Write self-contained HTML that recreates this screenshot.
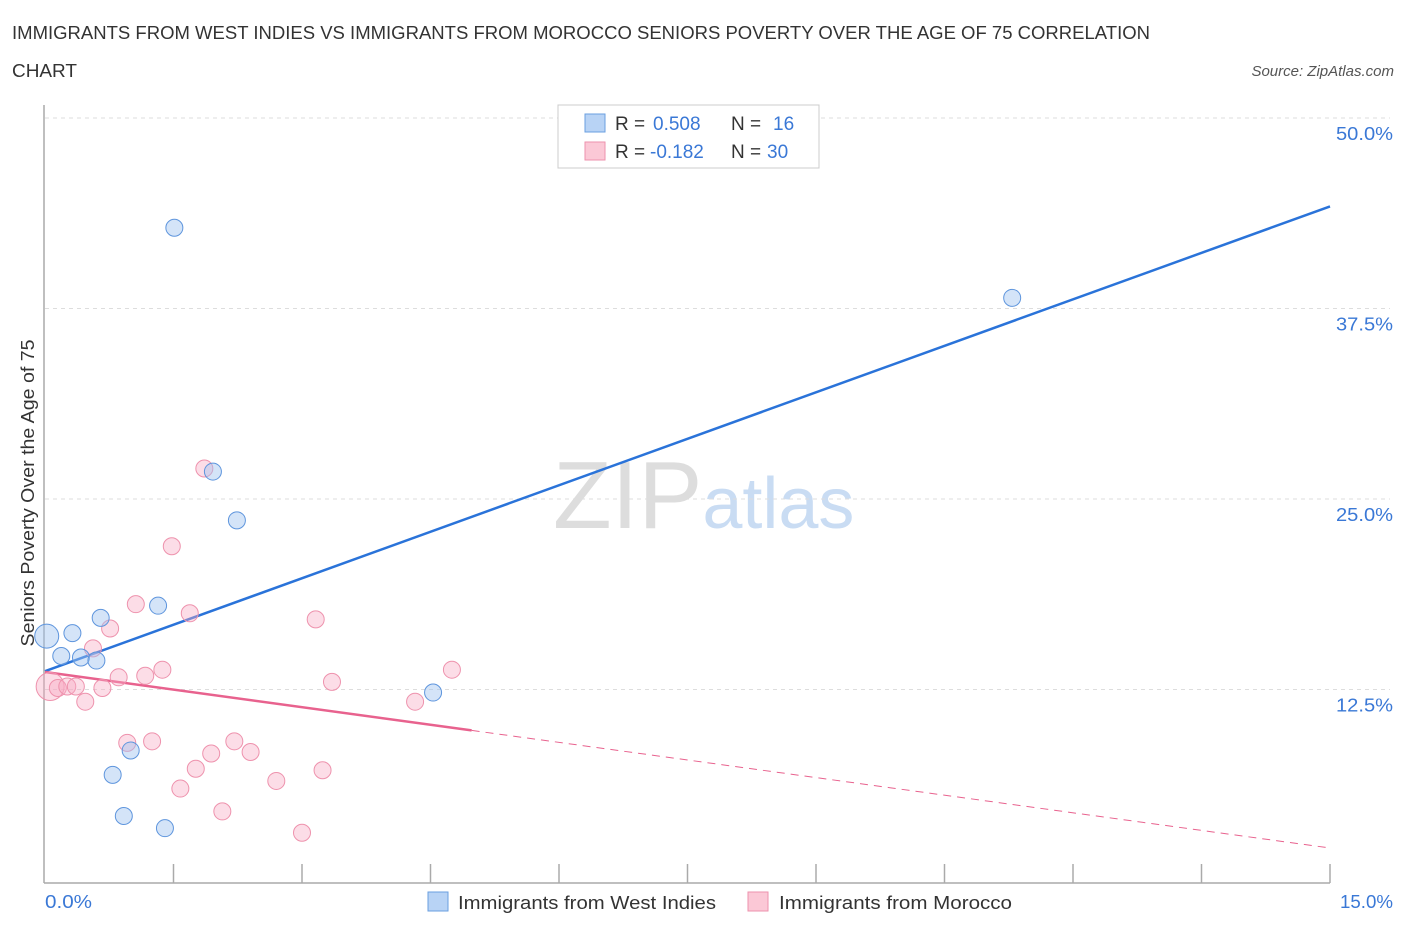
<!DOCTYPE html>
<html><head><meta charset="utf-8"><style>
body{margin:0;background:#fff;font-family:"Liberation Sans",sans-serif;}
svg text{font-family:"Liberation Sans",sans-serif;}
</style></head><body>
<svg width="1406" height="930" xmlns="http://www.w3.org/2000/svg" id="chart">
<text x="12" y="39" font-size="18" fill="#333" textLength="1138" lengthAdjust="spacingAndGlyphs">IMMIGRANTS FROM WEST INDIES VS IMMIGRANTS FROM MOROCCO SENIORS POVERTY OVER THE AGE OF 75 CORRELATION</text>
<text x="12" y="77" font-size="18" fill="#333" textLength="65" lengthAdjust="spacingAndGlyphs">CHART</text>
<text x="1394" y="76" font-size="15" fill="#555" text-anchor="end" font-style="italic">Source: ZipAtlas.com</text>
<text x="553" y="528" font-size="96" fill="#ddd" font-family="Liberation Serif">ZIP<tspan fill="#c9dcf3" font-family="Liberation Sans" font-size="72">atlas</tspan></text>
<g id="grid"></g>
<g id="axes"></g>
<g id="lines"></g>
<g id="points"></g>
<text transform="translate(34,493) rotate(-90)" font-size="18" fill="#333" text-anchor="middle" textLength="307" lengthAdjust="spacingAndGlyphs">Seniors Poverty Over the Age of 75</text>
<text x="45" y="908" font-size="18" fill="#3a78d6" textLength="47" lengthAdjust="spacingAndGlyphs">0.0%</text>
<text x="1340" y="908" font-size="18" fill="#3a78d6" textLength="53" lengthAdjust="spacingAndGlyphs">15.0%</text>
<g>
<rect x="558" y="105" width="261" height="63" fill="#fff" stroke="#ccc"/>
<rect x="585" y="114" width="20" height="18" fill="#b8d3f5" stroke="#6a9fe0"/>
<rect x="585" y="142" width="20" height="18" fill="#fbc8d6" stroke="#ee92ad"/>
<text x="615" y="130" font-size="19" fill="#333">R =</text>
<text x="653" y="130" font-size="19" fill="#3a78d6">0.508</text>
<text x="731" y="130" font-size="19" fill="#333">N =</text>
<text x="773" y="130" font-size="19" fill="#3a78d6">16</text>
<text x="615" y="158" font-size="19" fill="#333">R =</text>
<text x="650" y="158" font-size="19" fill="#3a78d6">-0.182</text>
<text x="731" y="158" font-size="19" fill="#333">N =</text>
<text x="767" y="158" font-size="19" fill="#3a78d6">30</text>
</g>
<g>
<rect x="428" y="892" width="20" height="19" fill="#b8d3f5" stroke="#6a9fe0"/>
<text x="458" y="909" font-size="18" fill="#333" textLength="258" lengthAdjust="spacingAndGlyphs">Immigrants from West Indies</text>
<rect x="748" y="892" width="20" height="19" fill="#fbc8d6" stroke="#ee92ad"/>
<text x="779" y="909" font-size="18" fill="#333" textLength="233" lengthAdjust="spacingAndGlyphs">Immigrants from Morocco</text>
</g>
</svg>
<script>
const yTicks=[12.5,25.0,37.5,50.0];
const blueX=[0.02,0.19,0.32,0.42,0.60,0.65,0.79,0.92,1.0,1.32,1.40,1.51,1.96,2.24,4.53,11.29];
const blueY=[16.0,14.7,16.2,14.6,14.4,17.2,6.9,4.2,8.5,18.0,3.4,42.8,26.8,23.6,12.3,38.2];
const pinkX=[0.06,0.15,0.26,0.36,0.47,0.56,0.67,0.76,0.86,0.96,1.06,1.17,1.25,1.37,1.48,1.58,1.69,1.76,1.86,1.94,2.07,2.21,2.40,2.70,3.00,3.16,3.24,3.35,4.32,4.75];
const pinkY=[12.7,12.6,12.7,12.7,11.7,15.2,12.6,16.5,13.3,9.0,18.1,13.4,9.1,13.8,21.9,6.0,17.5,7.3,27.0,8.3,4.5,9.1,8.4,6.5,3.1,17.1,7.2,13.0,11.7,13.8];
const blueTrend=[13.7,44.2];
const pinkTrend=[13.65,2.1];
const pinkSolidEnd=4.98;
const NS='http://www.w3.org/2000/svg';
const X=v=>45+v/15*1285, Y=v=>880-v/12.5*190.5;
function mk(t,a,p){const e=document.createElementNS(NS,t);for(const k in a)e.setAttribute(k,a[k]);document.getElementById(p).appendChild(e);return e;}
yTicks.forEach(t=>{
 const l=mk('line',{x1:45,x2:1390,y1:Y(t),y2:Y(t),stroke:'#ddd','stroke-dasharray':'4,4'},'grid');
 
 
 const tx=mk('text',{x:1336,y:Y(t)+22,'font-size':18,fill:'#3a78d6',textLength:57,lengthAdjust:'spacingAndGlyphs'},'grid');
 tx.textContent=t.toFixed(1)+'%';
 
 
});
let ax=mk('line',{x1:44,x2:1330,y1:883,y2:883,stroke:'#aaa','stroke-width':1.5},'axes');


ax=mk('line',{x1:44,x2:44,y1:105,y2:883,stroke:'#aaa','stroke-width':1.5},'axes');


for(let i=1;i<=10;i++){const t=mk('line',{x1:X(i*1.5),x2:X(i*1.5),y1:864,y2:883,stroke:'#aaa','stroke-width':1.5},'axes');
 
 }
let ln=mk('line',{x1:X(0),y1:Y(blueTrend[0]),x2:X(15),y2:Y(blueTrend[1]),stroke:'#2a73d9','stroke-width':2.5},'lines');


const py=v=>pinkTrend[0]+(pinkTrend[1]-pinkTrend[0])*v/15;
ln=mk('line',{x1:X(0),y1:Y(py(0)),x2:X(pinkSolidEnd),y2:Y(py(pinkSolidEnd)),stroke:'#e8628e','stroke-width':2.5},'lines');


ln=mk('line',{x1:X(pinkSolidEnd),y1:Y(py(pinkSolidEnd)),x2:X(15),y2:Y(py(15)),stroke:'#e8628e','stroke-width':1,'stroke-dasharray':'8,6'},'lines');


pinkX.forEach((x,i)=>{const c=mk('circle',{cx:X(x),cy:Y(pinkY[i]),r:i==0?14:8.5,fill:'rgba(248,170,195,0.4)',stroke:'#ee92ad','stroke-width':1},'points');
 
 });
blueX.forEach((x,i)=>{const c=mk('circle',{cx:X(x),cy:Y(blueY[i]),r:i==0?12:8.5,fill:'rgba(160,195,240,0.45)',stroke:'#5e95dd','stroke-width':1},'points');
 
 });
</script>
</body></html>
